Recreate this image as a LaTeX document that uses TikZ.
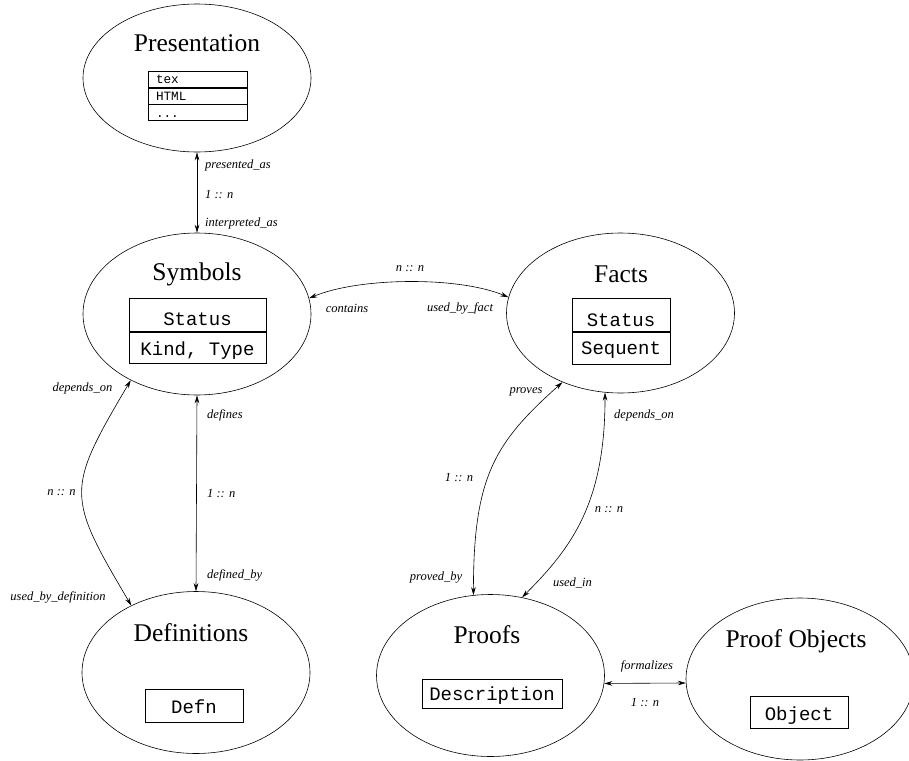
\documentclass[tikz,border=0pt]{standalone}
\usepackage{fontspec}
\setmainfont{Liberation Serif}
\setmonofont{Liberation Mono}
\usetikzlibrary{shapes.geometric,arrows.meta}
\begin{document}
\begin{tikzpicture}[x=1pt,y=-1pt,
  ent/.style={draw, ellipse, inner sep=0pt, line width=0.6pt, minimum width=228pt},
  title/.style={font=\fontsize{25.5}{28}\selectfont, anchor=base, inner sep=0pt},
  lab/.style={font=\fontsize{12.5}{14}\selectfont\itshape, inner sep=0pt},
  cell/.style={draw, line width=0.6pt, font=\fontsize{19}{21}\selectfont\ttfamily, inner xsep=0pt, inner ysep=0pt, anchor=north},
  smallcell/.style={draw, line width=0.6pt, font=\fontsize{12.7}{14}\selectfont\ttfamily, inner xsep=8pt, inner ysep=0pt, anchor=north, text width=83pt, align=left, text height=12.5pt, text depth=3.5pt},
  rel/.style={line width=0.6pt, {Stealth[length=8pt,width=4.6pt]}-{Stealth[length=8pt,width=4.6pt]}},
]
\useasboundingbox (0,0) rectangle (909,760);

% entities
\node[ent, minimum height=148pt] (pres) at (197,78) {};
\node[ent, minimum height=162pt] (sym) at (197,314) {};
\node[ent, minimum height=160pt] (facts) at (620.5,313) {};
\node[ent, minimum height=162pt] (defs) at (196,672.5) {};
\node[ent, minimum height=162pt] (proofs) at (490.5,675.5) {};
\node[ent, minimum height=162pt] (pobj) at (800,679) {};

% titles
\node[title] (presT) at (197,52) {Presentation};
\node[title] (symT) at (197,280) {Symbols};
\node[title] (factsT) at (621,282) {Facts};
\node[title] (defsT) at (191,641) {Definitions};
\node[title] (proofsT) at (487,643) {Proofs};
\node[title] (pobjT) at (796,647) {Proof Objects};

% boxes
\node[smallcell] (pr1) at (197.5,71) {tex};
\node[smallcell] (pr2) at (pr1.south) {HTML};
\node[smallcell] (pr3) at (pr2.south) {...};

\node[cell, minimum width=137pt, text height=27pt, text depth=6pt] (sy1) at (197.5,298) {Status};
\node[cell, minimum width=137pt, text height=24pt, text depth=7pt] (sy2) at (sy1.south) {Kind, Type};

\node[cell, minimum width=98pt, text height=28pt, text depth=5pt] (fa1) at (621,298) {Status};
\node[cell, minimum width=98pt, text height=23pt, text depth=9pt] (fa2) at (fa1.south) {Sequent};

\node[cell, minimum width=98pt, text height=24pt, text depth=9pt] (dfn) at (194,689) {Defn};
\node[cell, minimum width=140pt, text height=21pt, text depth=8pt] (desc) at (492,679) {Description};
\node[cell, minimum width=98pt, text height=24pt, text depth=8pt] (obj) at (799,696) {Object};

% connectors
\draw[rel] (pres.south) -- (sym.north);
\draw[rel] (sym.south) -- (defs.north);
\draw[rel] (sym.8) .. controls +(50,-21) and +(-50,-21) .. (facts.172);
\draw[rel] (sym.225) .. controls +(-65,110) and +(-65,-110) .. (defs.134);
\draw[rel] (proofs.102) .. controls +(0,-120) and +(-67,60) .. (facts.230);
\draw[rel] (facts.259) .. controls +(0,110) and +(50,-50) .. (proofs.68);
\draw[rel] (proofs.-4) -- (pobj.182);

% labels
\node[lab, anchor=west] (l1) at (205,165) {presented\_as};
\node[lab, anchor=west] (l2) at (205,194) {1 :: n};
\node[lab, anchor=west] (l3) at (205,223) {interpreted\_as};

\node[lab] (l4) at (410,269) {n :: n};
\node[lab] (l5) at (347,308) {contains};
\node[lab] (l6) at (460,308) {used\_by\_fact};

\node[lab] (l7) at (82.5,388) {depends\_on};
\node[lab] (l8) at (61.5,493) {n :: n};
\node[lab] (l9) at (58,597) {used\_by\_definition};

\node[lab, anchor=west] (l10) at (207,415) {defines};
\node[lab, anchor=west] (l11) at (207,493) {1 :: n};
\node[lab, anchor=west] (l12) at (207,575) {defined\_by};

\node[lab] (l13) at (526,392) {proves};
\node[lab] (l14) at (459,477) {1 :: n};
\node[lab] (l15) at (436,578) {proved\_by};

\node[lab, anchor=west] (l16) at (614,415) {depends\_on};
\node[lab] (l17) at (609,510) {n :: n};
\node[lab] (l18) at (572.5,583) {used\_in};

\node[lab] (l19) at (647,666) {formalizes};
\node[lab] (l20) at (645,702) {1 :: n};
\end{tikzpicture}
\end{document}
